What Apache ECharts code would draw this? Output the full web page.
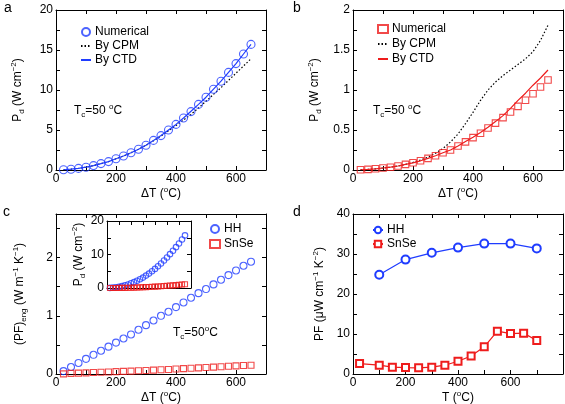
<!DOCTYPE html>
<html><head><meta charset="utf-8">
<script src="https://cdn.jsdelivr.net/npm/echarts@6/dist/echarts.min.js"></script>
<style>html,body{margin:0;padding:0;background:#fff}#c{width:565px;height:404px}</style>
</head><body><div id="c"></div>
<script>
// ---------- data ----------
const dT = [25,50,75,100,125,150,175,200,225,250,275,300,325,350,375,400,425,450,475,500,525,550,575,600,625,650];
// panel a (HH, Pd in W cm^-2)
const aNumerical = [0.03,0.1,0.2,0.35,0.55,0.8,1.05,1.4,1.75,2.15,2.6,3.1,3.7,4.3,5.0,5.7,6.5,7.3,8.2,9.1,10.1,11.1,12.2,13.3,14.5,15.7];
const aCPM = [0.03,0.1,0.2,0.35,0.55,0.8,1.05,1.4,1.75,2.15,2.6,3.1,3.65,4.25,4.9,5.55,6.25,6.95,7.75,8.6,9.45,10.3,11.2,12.1,13.0,13.9];
const aCTD = [0.03,0.1,0.2,0.35,0.55,0.8,1.05,1.4,1.75,2.15,2.6,3.1,3.7,4.3,5.0,5.7,6.5,7.35,8.2,9.1,10.1,11.1,12.2,13.3,14.5,15.7];
// panel b (SnSe, Pd in W cm^-2)
const bNumerical = [0.003,0.008,0.015,0.025,0.035,0.05,0.07,0.09,0.115,0.145,0.178,0.215,0.25,0.3,0.352,0.405,0.46,0.525,0.586,0.655,0.725,0.795,0.872,0.953,1.037,1.125];
const bCPM = [0.003,0.008,0.015,0.025,0.035,0.05,0.07,0.095,0.125,0.16,0.21,0.27,0.35,0.45,0.58,0.72,0.87,1.0,1.1,1.18,1.25,1.32,1.39,1.48,1.62,1.81];
const bCTD = [0.003,0.008,0.015,0.025,0.035,0.05,0.07,0.09,0.115,0.145,0.178,0.215,0.25,0.3,0.355,0.41,0.47,0.535,0.605,0.68,0.77,0.87,0.96,1.06,1.15,1.25];
// panel c ((PF)eng in W m^-1 K^-1)
const cHH = [0.05,0.12,0.19,0.26,0.33,0.4,0.47,0.54,0.61,0.68,0.76,0.84,0.92,1.0,1.07,1.15,1.23,1.31,1.39,1.46,1.54,1.62,1.7,1.78,1.86,1.93];
const cSnSe = [0.003,0.01,0.015,0.02,0.025,0.03,0.035,0.04,0.045,0.05,0.055,0.06,0.066,0.072,0.078,0.085,0.092,0.098,0.105,0.112,0.118,0.125,0.132,0.14,0.145,0.15];
// panel d (PF in uW cm^-1 K^-2)
const dTempHH = [100,200,300,400,500,600,700];
const dHH = [24.8,28.6,30.3,31.6,32.6,32.6,31.4];
const dTempSnSe = [25,100,150,200,250,300,350,400,450,500,550,600,650,700];
const dSnSe = [2.6,2.2,1.7,1.6,1.55,1.7,2.2,3.2,4.5,6.8,10.7,10.1,10.2,8.4];

// ---------- styling ----------
const FONT = 'Liberation Sans, Arial, Helvetica, sans-serif';
const BLUE = '#1f3cff', RED = '#ee1c1c', BLACK = '#000';
const rich = {
  n: {fontSize: 12, fontFamily: FONT, color: BLACK, lineHeight: 16},
  sup: {fontSize: 8, fontFamily: FONT, color: BLACK, verticalAlign: 'top', lineHeight: 16},
  sub: {fontSize: 8, fontFamily: FONT, color: BLACK, verticalAlign: 'bottom', lineHeight: 16}
};
const zip = (xs, ys) => xs.map((x, i) => [x, ys[i]]);
function fmt(step, maxShow) {
  return v => {
    if (!step) return '';
    const r = v / step;
    if (Math.abs(r - Math.round(r)) > 1e-6) return '';
    if (maxShow !== undefined && v > maxShow + 1e-9) return '';
    return String(+v.toFixed(2));
  };
}
const line = {show: true, onZero: false, lineStyle: {color: BLACK, width: 1}};
const tick = {show: true, inside: true, length: 4, lineStyle: {color: BLACK, width: 1}};
function mkX(gi, max, interval, labelStep, name, nameGap, maxShow) {
  return [
    {type: 'value', gridIndex: gi, position: 'bottom', min: 0, max, interval,
     axisLine: line, axisTick: tick, splitLine: {show: false},
     axisLabel: {show: !!labelStep, margin: 3, fontSize: 12, fontFamily: FONT, color: BLACK, formatter: fmt(labelStep, maxShow)},
     name: name || '', nameLocation: 'middle', nameGap: nameGap || 0, nameTextStyle: {rich}},
    {type: 'value', gridIndex: gi, position: 'top', min: 0, max, interval,
     axisLine: line, axisTick: tick, splitLine: {show: false}, axisLabel: {show: false}}
  ];
}
function mkY(gi, max, interval, labelStep, name, nameGap) {
  return [
    {type: 'value', gridIndex: gi, position: 'left', min: 0, max, interval,
     axisLine: line, axisTick: tick, splitLine: {show: false},
     axisLabel: {show: !!labelStep, margin: 3, fontSize: 12, fontFamily: FONT, color: BLACK, formatter: fmt(labelStep)},
     name: name || '', nameLocation: 'middle', nameGap: nameGap || 0, nameTextStyle: {rich}},
    {type: 'value', gridIndex: gi, position: 'right', min: 0, max, interval,
     axisLine: line, axisTick: tick, splitLine: {show: false}, axisLabel: {show: false}}
  ];
}
const dTname = '{n|ΔT (}{sup|o}{n|C)}';
const pdName = '{n|P}{sub|d}{n| (W cm}{sup|−2}{n|)}';

const xAxis = [].concat(
  mkX(0, 700, 100, 200, dTname, 15),
  mkX(1, 700, 100, 200, dTname, 15),
  mkX(2, 700, 100, 200, dTname, 15),
  mkX(3, 800, 100, 200, '{n|T (}{sup|o}{n|C)}', 15, 600),
  mkX(4, 700, 100, 0)
);
const yAxis = [].concat(
  mkY(0, 20, 2.5, 5, pdName, 30),
  mkY(1, 2, 0.25, 0.5, pdName, 30),
  mkY(2, 2.75, 0.5, 1, '{n|(PF)}{sub|eng}{n| (W m}{sup|−1}{n| K}{sup|−1}{n|)}', 28),
  mkY(3, 40, 5, 10, '{n|PF (μW cm}{sup|−1}{n| K}{sup|−2}{n|)}', 25),
  mkY(4, 20, 5, 10, pdName, 17)
);

function hollow(color, symbol, size, name, xi, yi, data, z) {
  return {type: 'scatter', name, xAxisIndex: xi, yAxisIndex: yi, data, symbol, symbolSize: size,
          itemStyle: {color: 'rgba(255,255,255,0)', borderColor: color, borderWidth: 1.1}, z: z || 3};
}
function curve(color, type, name, xi, yi, data) {
  return {type: 'line', name, xAxisIndex: xi, yAxisIndex: yi, data, symbol: 'none', showSymbol: false,
          lineStyle: {color, width: 1.2, type}, itemStyle: {color}, z: 2};
}

const labels = {aNum: 'Numerical', aCPM: 'By CPM', aCTD: 'By CTD',
                bNum: 'Numerical', bCPM: 'By CPM', bCTD: 'By CTD',
                cHH: 'HH', cSn: 'SnSe', dHH: 'HH', dSn: 'SnSe'};
const legendBase = {orient: 'vertical', itemWidth: 10, itemHeight: 8, itemGap: 2,
  textStyle: {fontSize: 12, fontFamily: FONT, color: BLACK, padding: [0, 0, 0, -1]},
  formatter: n => labels[n], selectedMode: false};
const noSym = {color: 'rgba(0,0,0,0)', borderWidth: 0, borderColor: 'rgba(0,0,0,0)'};

const series = [
  hollow(BLUE, 'circle', 8, 'aNum', 0, 0, zip(dT, aNumerical)),
  curve(BLACK, [1.5, 2], 'aCPM', 0, 0, zip(dT, aCPM)),
  curve(BLUE, 'solid', 'aCTD', 0, 0, zip(dT, aCTD)),
  hollow(RED, 'rect', 6.5, 'bNum', 2, 2, zip(dT, bNumerical)),
  curve(BLACK, [1.5, 2], 'bCPM', 2, 2, zip(dT, bCPM)),
  curve(RED, 'solid', 'bCTD', 2, 2, zip(dT, bCTD)),
  hollow(BLUE, 'circle', 7, 'cHH', 4, 4, zip(dT, cHH)),
  hollow(RED, 'rect', 6, 'cSn', 4, 4, zip(dT, cSnSe)),
  hollow(BLUE, 'circle', 5.5, 'iHH', 8, 8, zip(dT, aNumerical)),
  hollow(RED, 'rect', 5, 'iSn', 8, 8, zip(dT, bNumerical)),
  {type: 'line', name: 'dHH', xAxisIndex: 6, yAxisIndex: 6, data: zip(dTempHH, dHH), symbol: 'emptyCircle', symbolSize: 8,
   lineStyle: {color: BLUE, width: 1.2}, itemStyle: {color: BLUE, borderWidth: 1.1}},
  {type: 'line', name: 'dSn', xAxisIndex: 6, yAxisIndex: 6, data: zip(dTempSnSe, dSnSe), symbol: 'emptyRect', symbolSize: 7,
   lineStyle: {color: RED, width: 1.2}, itemStyle: {color: RED, borderWidth: 1.1}}
];

const txt = (left, top, text, size) => ({type: 'text', left, top,
  style: {text, font: (size || 14) + 'px ' + FONT, fill: BLACK}});
const tc = (left, top, text) => ({type: 'text', left, top, style: {text, rich, fill: BLACK}});

const chart = echarts.init(document.getElementById('c'), null, {renderer: 'canvas'});
chart.setOption({
  animation: false,
  backgroundColor: '#fff',
  grid: [
    {left: 56, top: 10, width: 210, height: 160, outerBoundsMode: 'none'},
    {left: 353, top: 10, width: 210, height: 160, outerBoundsMode: 'none'},
    {left: 56, top: 214, width: 210, height: 160, outerBoundsMode: 'none'},
    {left: 353, top: 214, width: 210, height: 160, outerBoundsMode: 'none'},
    {left: 107, top: 221, width: 84, height: 67, outerBoundsMode: 'none'}
  ],
  xAxis, yAxis, series,
  legend: [
    Object.assign({}, legendBase, {left: 75, top: 21,
      data: ['aNum', {name: 'aCPM', itemStyle: noSym}, {name: 'aCTD', itemStyle: noSym}]}),
    Object.assign({}, legendBase, {left: 372, top: 18, itemGap: 3,
      data: ['bNum', {name: 'bCPM', itemStyle: noSym}, {name: 'bCTD', itemStyle: noSym}]}),
    Object.assign({}, legendBase, {left: 204, top: 218, itemGap: 3, data: ['cHH', 'cSn']}),
    Object.assign({}, legendBase, {left: 367, top: 219, itemGap: 2, data: ['dHH', 'dSn']})
  ],
  graphic: [
    txt(4, 1, 'a'), txt(293, 1, 'b'), txt(3, 205, 'c'), txt(293, 205, 'd'),
    tc(74, 103, '{n|T}{sub|c}{n|=50 }{sup|o}{n|C}'),
    tc(373, 103, '{n|T}{sub|c}{n|=50 }{sup|o}{n|C}'),
    tc(173, 325, '{n|T}{sub|c}{n|=50}{sup|o}{n|C}')
  ]
});
</script></body></html>
